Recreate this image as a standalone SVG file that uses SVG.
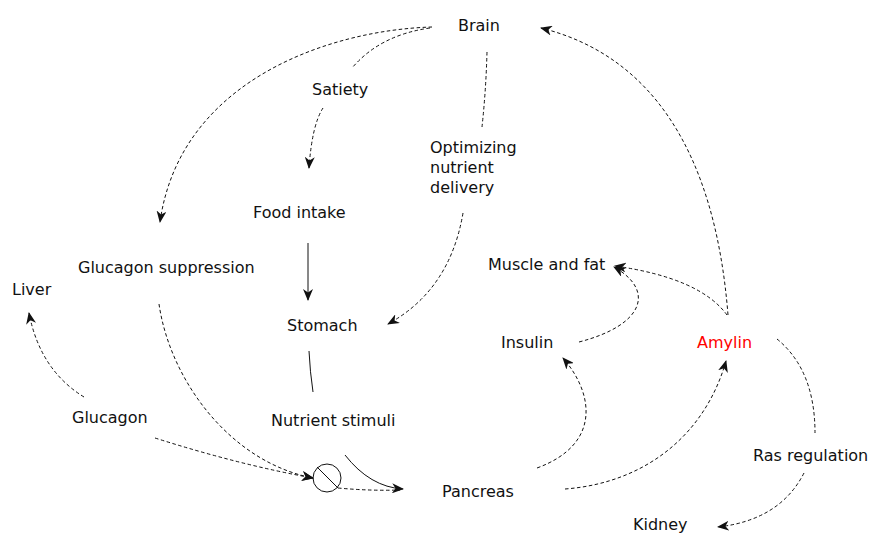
<svg xmlns="http://www.w3.org/2000/svg" width="871" height="535" viewBox="0 0 871 535">
<style>
text{font-family:"DejaVu Sans","Verdana",sans-serif;font-size:16px;fill:#111}
.red{fill:#ff0000}
.d{fill:none;stroke:#111;stroke-width:1;stroke-dasharray:3.5,2.5}
.s{fill:none;stroke:#111;stroke-width:1}
.a{marker-end:url(#ah)}
</style>
<defs>
<marker id="ah" viewBox="0 0 12 10" refX="11" refY="5" markerWidth="12" markerHeight="10" markerUnits="userSpaceOnUse" orient="auto">
<path d="M0,0 L12,5 L0,10 L3.5,5 z" fill="#111"/>
</marker>
</defs>
<rect width="871" height="535" fill="#fff"/>
<g id="connectors">
<path class="d a" d="M432,27 C330,30 180,80 160,222"/>
<path class="d" d="M430,28 Q380,35 352,68"/>
<path class="d a" d="M323,108 Q312,125 309,168"/>
<path class="d" d="M487,52 Q486,90 482,127"/>
<path class="d a" d="M463,213 Q450,290 388,324"/>
<path class="s a" d="M308,243 L308,300"/>
<path class="s" d="M309,351 Q310,372 313,392"/>
<path class="s a" d="M345,455 Q370,487 403,489"/>
<path class="d a" d="M159,304 C170,380 230,462 313,478"/>
<path class="d a" d="M155,438 Q240,465 313,478"/>
<path class="d" d="M338,488 Q370,491 400,490"/>
<path class="d a" d="M84,397 Q40,370 29,313"/>
<path class="d a" d="M537,468 C600,445 595,395 563,358"/>
<path class="d a" d="M565,489 C645,483 705,435 726,361"/>
<path class="d a" d="M579,342 C645,325 655,290 614,267"/>
<path class="d a" d="M727,315 Q700,278 615,266"/>
<path class="d a" d="M728,315 C715,150 650,55 541,28"/>
<path class="d" d="M777,339 Q815,370 815,433"/>
<path class="d a" d="M804,473 Q780,520 718,527"/>
</g>
<g id="inhibit">
<circle cx="327" cy="478" r="14" fill="none" stroke="#111" stroke-width="1"/>
<line x1="317" y1="467" x2="338" y2="488" stroke="#111" stroke-width="1"/>
</g>
<g id="brain"><text x="458" y="31">Brain</text></g>
<g id="satiety"><text x="312" y="95">Satiety</text></g>
<g id="optimizing"><text x="430" y="153">Optimizing</text><text x="430" y="173">nutrient</text><text x="430" y="193">delivery</text></g>
<g id="food-intake"><text x="253" y="218">Food intake</text></g>
<g id="glucagon-suppression"><text x="78" y="273">Glucagon suppression</text></g>
<g id="liver"><text x="12" y="295">Liver</text></g>
<g id="muscle-fat"><text x="488" y="270">Muscle and fat</text></g>
<g id="stomach"><text x="287" y="331">Stomach</text></g>
<g id="insulin"><text x="501" y="348">Insulin</text></g>
<g id="amylin"><text class="red" x="697" y="348">Amylin</text></g>
<g id="glucagon"><text x="72" y="423">Glucagon</text></g>
<g id="nutrient-stimuli"><text x="271" y="426">Nutrient stimuli</text></g>
<g id="pancreas"><text x="442" y="497">Pancreas</text></g>
<g id="ras-regulation"><text x="753" y="461">Ras regulation</text></g>
<g id="kidney"><text x="633" y="530">Kidney</text></g>
</svg>
